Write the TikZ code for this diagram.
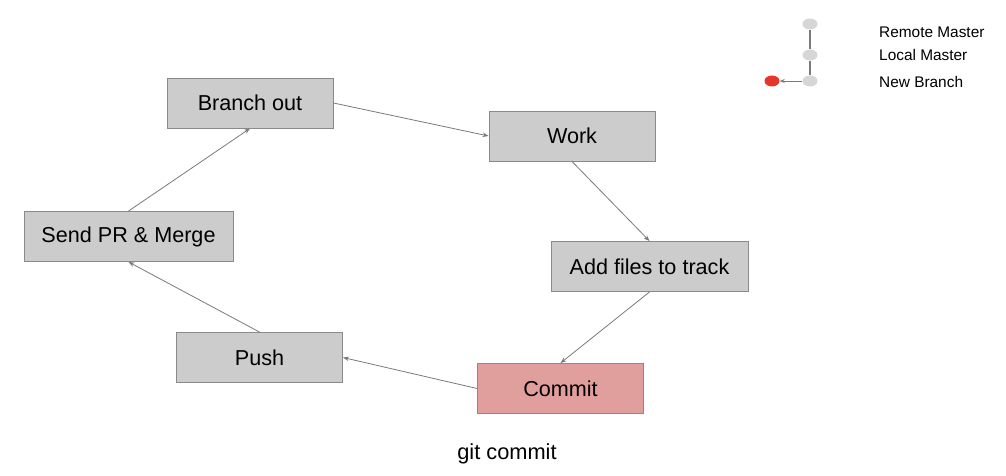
\documentclass[tikz,border=0pt]{standalone}
\usepackage{fontspec}
\setmainfont{Liberation Sans}
\usetikzlibrary{arrows.meta,shapes.geometric}
\definecolor{boxfill}{HTML}{CCCCCC}
\definecolor{boxline}{HTML}{8A8A8A}
\definecolor{commitfill}{HTML}{E09E9C}
\definecolor{arrowgray}{HTML}{7A7A7A}
\definecolor{dotgray}{HTML}{D6D6D6}
\definecolor{dotred}{HTML}{E8352B}
\tikzset{
  stepbox/.style={draw=boxline, fill=boxfill, line width=0.9pt, minimum width=166pt, minimum height=50pt, inner sep=0pt, font=\fontsize{21.6}{24}\selectfont},
  conn/.style={draw=arrowgray, line width=0.8pt, -{Stealth[length=6pt,width=4.5pt]}},
  dot/.style={ellipse, fill=dotgray, minimum width=15pt, minimum height=11pt, inner sep=0pt},
  legtext/.style={anchor=west, inner sep=0pt, font=\fontsize{15.4}{18}\selectfont},
}
\begin{document}
\begin{tikzpicture}[x=1pt,y=-1pt]
\useasboundingbox (0,0) rectangle (1006,476);
\node[stepbox] (bo) at (250,103) {Branch out};
\node[stepbox] (work) at (572,136) {Work};
\node[stepbox, minimum width=197pt] (add) at (649.5,266.5) {Add files to track};
\node[stepbox, fill=commitfill] (commit) at (560.5,388.5) {Commit};
\node[stepbox] (push) at (259.5,357.5) {Push};
\node[stepbox, minimum width=209pt] (pr) at (128.5,236.5) {Send PR \& Merge};
\node[inner sep=0pt, font=\fontsize{21.8}{24}\selectfont] (cap) at (507,454) {git commit};
\draw[conn] (bo.east) -- (work.west);
\draw[conn] (work.south) -- (add.north);
\draw[conn] (add.south) -- (commit.north);
\draw[conn] (commit.west) -- (push.east);
\draw[conn] (push.north) -- (pr.south);
\draw[conn] (pr.north) -- (bo.south);
% legend
\node[dot] (rm) at (810,24) {};
\node[dot] (lm) at (810,55) {};
\node[dot] (nb) at (810,81) {};
\node[dot, fill=dotred] (red) at (772,81) {};
\draw[draw=arrowgray, line width=1.8pt] (rm) -- (lm);
\draw[draw=arrowgray, line width=1.8pt] (lm) -- (nb);
\draw[draw=arrowgray, line width=0.8pt, -{Stealth[length=5pt,width=4pt]}] (nb) -- (red);
\node[legtext] (t1) at (879,32) {Remote Master};
\node[legtext] (t2) at (879,55) {Local Master};
\node[legtext] (t3) at (879,82) {New Branch};
\end{tikzpicture}
\end{document}
